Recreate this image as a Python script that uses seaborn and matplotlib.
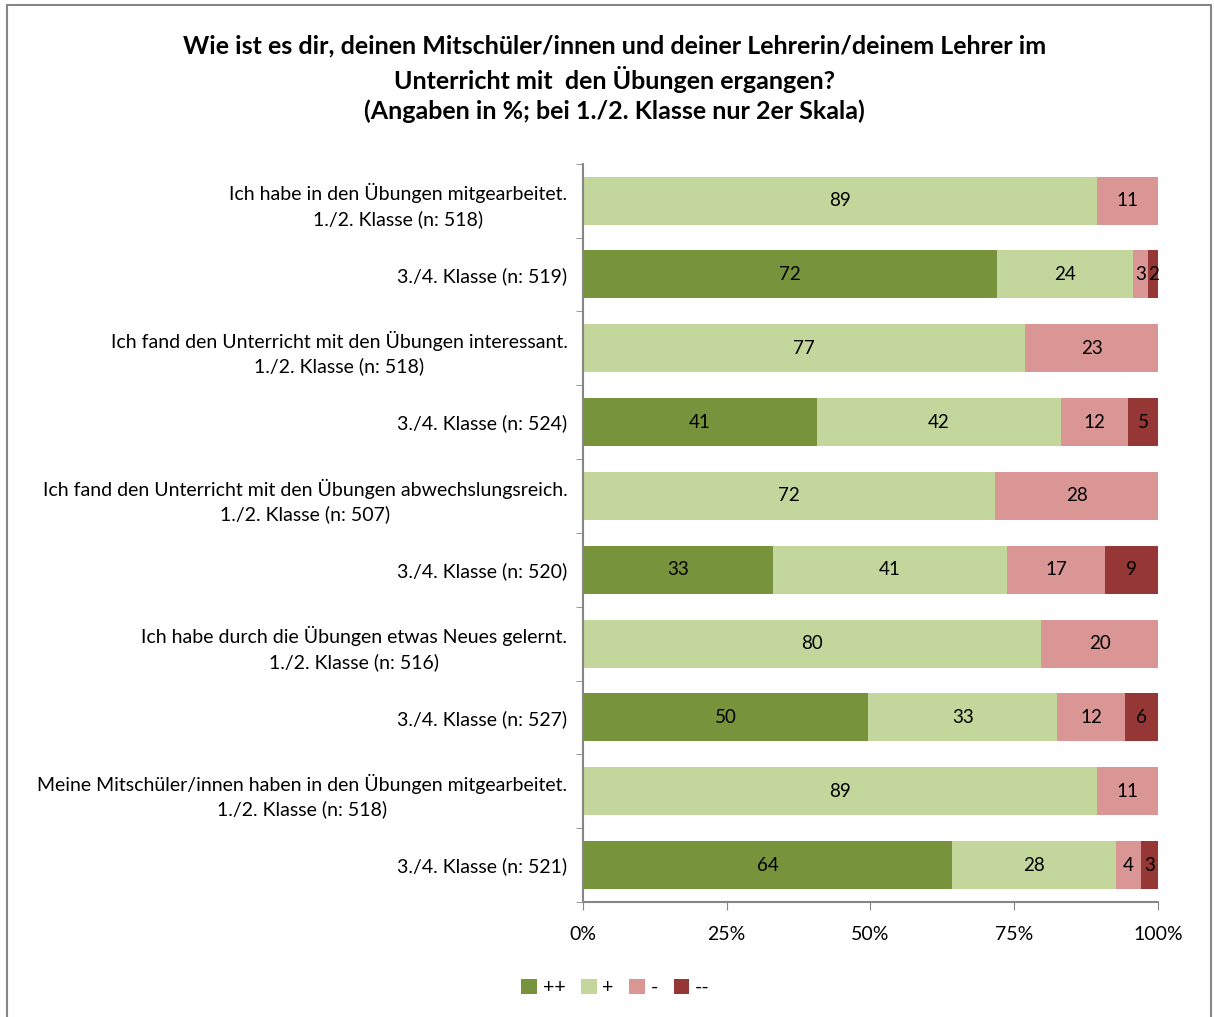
import numpy as np
import pandas as pd
import seaborn as sns
import matplotlib.pyplot as plt
from matplotlib.patches import Rectangle, Patch

# Data (percent; labels are rounded)
rows = [
    "Ich habe in den Übungen mitgearbeitet.\n1./2. Klasse (n: 518)",
    "3./4. Klasse (n: 519)",
    "Ich fand den Unterricht mit den Übungen interessant.\n1./2. Klasse (n: 518)",
    "3./4. Klasse (n: 524)",
    "Ich fand den Unterricht mit den Übungen abwechslungsreich.\n1./2. Klasse (n: 507)",
    "3./4. Klasse (n: 520)",
    "Ich habe durch die Übungen etwas Neues gelernt.\n1./2. Klasse (n: 516)",
    "3./4. Klasse (n: 527)",
    "Meine Mitschüler/innen haben in den Übungen mitgearbeitet.\n1./2. Klasse (n: 518)",
    "3./4. Klasse (n: 521)",
]
levels = ["++", "+", "-", "--"]
very_good = [0, 72.0, 0, 40.7, 0, 33.0, 0, 49.6, 0, 64.2]
good = [89.4, 23.7, 76.9, 42.4, 71.7, 40.7, 79.7, 32.9, 89.4, 28.4]
bad = [10.6, 2.6, 23.1, 11.7, 28.3, 17.1, 20.3, 11.8, 10.6, 4.4]
very_bad = [0, 1.7, 0, 5.2, 0, 9.2, 0, 5.7, 0, 3.0]
colors = ["#77933C", "#C3D69B", "#D99694", "#953735"]

df = pd.DataFrame({"row": rows, "++": very_good, "+": good, "-": bad, "--": very_bad})
cum = df[levels].cumsum(axis=1)
starts = cum - df[levels]

sns.set_style("white")
plt.rcParams["font.family"] = ["Lato", "DejaVu Sans"]
plt.rcParams["text.color"] = "black"
plt.rcParams["xtick.labelcolor"] = "black"
plt.rcParams["ytick.labelcolor"] = "black"

fig = plt.figure(figsize=(12.14, 10.17), dpi=100)
ax = fig.add_axes([0.480, 0.113, 0.474, 0.726])

# draw cumulative bars from the outermost segment inwards
for lvl, col in zip(levels[::-1], colors[::-1]):
    sns.barplot(x=cum[lvl], y=df["row"], orient="h", color=col, width=0.65,
                saturation=1, ax=ax, linewidth=0)

for i in range(len(rows)):
    for lvl in levels:
        v = df.loc[i, lvl]
        if v > 0:
            ax.text(starts.loc[i, lvl] + v / 2, i, f"{v:.0f}", ha="center", va="center",
                    fontsize=13.5, color="black")

ax.set_xlim(0, 100)
ax.set_ylim(len(rows) - 0.5, -0.5)
ax.set_xticks([0, 25, 50, 75, 100])
ax.set_xticklabels(["0%", "25%", "50%", "75%", "100%"], fontsize=14)
ax.set_xlabel("")
ax.set_ylabel("")
ax.set_yticks(range(len(rows)))
ax.set_yticklabels(rows, fontsize=14, multialignment="center", linespacing=1.45)
ax.set_yticks(np.arange(-0.5, len(rows), 1), minor=True)
ax.tick_params(axis="y", which="major", length=0, pad=11, labelcolor="black")
ax.tick_params(axis="y", which="minor", length=5, color="#868686", direction="out", left=True)
ax.tick_params(axis="x", length=6, color="#868686", direction="out", bottom=True, pad=11,
               labelcolor="black")
for s in ["top", "right"]:
    ax.spines[s].set_visible(False)
for s in ["left", "bottom"]:
    ax.spines[s].set_color("#868686")
    ax.spines[s].set_linewidth(1.5)

fig.text(0.506, 0.966,
         "Wie ist es dir, deinen Mitschüler/innen und deiner Lehrerin/deinem Lehrer im\n"
         "Unterricht mit  den Übungen ergangen?\n(Angaben in %; bei 1./2. Klasse nur 2er Skala)",
         ha="center", va="top", fontsize=18, fontweight="bold", linespacing=1.35, color="black")

handles = [Patch(facecolor=c, edgecolor="none") for c in colors]
fig.legend(handles, levels, loc="center", bbox_to_anchor=(0.507, 0.029), ncol=4, frameon=False,
           fontsize=14, handlelength=0.8, handleheight=0.8, handletextpad=0.3, columnspacing=0.8,
           labelcolor="black")

fig.patches.append(Rectangle((7 / 1214, -0.01), 1204 / 1214, 1.01 - 5 / 1017,
                             transform=fig.transFigure, fill=False,
                             edgecolor="#868686", linewidth=1.5))

fig.savefig("out.png", dpi=100)
